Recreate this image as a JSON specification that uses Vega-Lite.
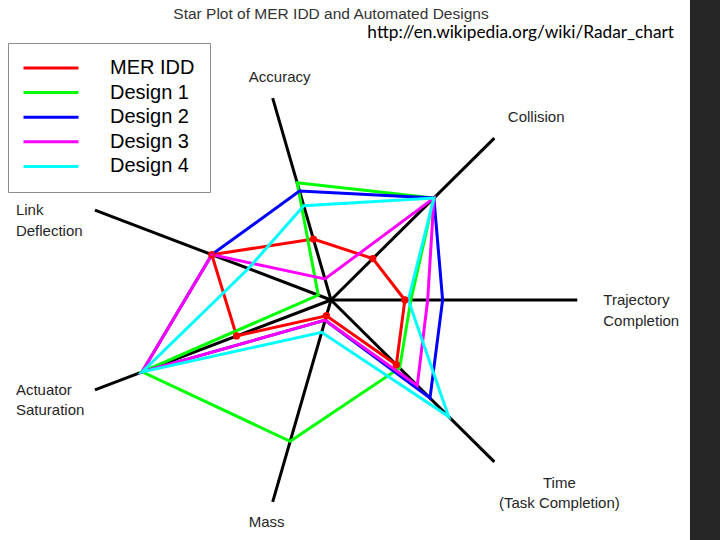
{
  "$schema": "https://vega.github.io/schema/vega-lite/v6.json",
  "width": 690,
  "height": 540,
  "autosize": "none",
  "padding": {"left": 0, "top": 0, "right": 30, "bottom": 0},
  "background": "#262626",
  "config": {"view": {"fill": "white", "stroke": null}},
  "datasets": {
    "axes": [
      {"axis": "Trajectory Completion", "idx": 0, "angle": 0, "len": 0.94, "label": "Trajectory\nCompletion"},
      {"axis": "Collision", "idx": 1, "angle": 51.43, "len": 1, "label": "Collision"},
      {"axis": "Accuracy", "idx": 2, "angle": 102.86, "len": 1, "label": "Accuracy"},
      {"axis": "Link Deflection", "idx": 3, "angle": 154.29, "len": 1, "label": "Link\nDeflection"},
      {"axis": "Actuator Saturation", "idx": 4, "angle": 205.71, "len": 1, "label": "Actuator\nSaturation"},
      {"axis": "Mass", "idx": 5, "angle": 257.14, "len": 1, "label": "Mass"},
      {"axis": "Time (Task Completion)", "idx": 6, "angle": 308.57, "len": 1, "label": "Time\u00a0\u00a0\u00a0\u00a0\u00a0\u00a0\u00a0\u00a0\u00a0\n(Task Completion)"}
    ],
    "scores": [
      {"series": "MER IDD", "axis": "Trajectory Completion", "value": 0.282},
      {"series": "MER IDD", "axis": "Collision", "value": 0.256},
      {"series": "MER IDD", "axis": "Accuracy", "value": 0.302},
      {"series": "MER IDD", "axis": "Link Deflection", "value": 0.505},
      {"series": "MER IDD", "axis": "Actuator Saturation", "value": 0.40},
      {"series": "MER IDD", "axis": "Mass", "value": 0.078},
      {"series": "MER IDD", "axis": "Time (Task Completion)", "value": 0.40},
      {"series": "Design 1", "axis": "Trajectory Completion", "value": 0.305},
      {"series": "Design 1", "axis": "Collision", "value": 0.63},
      {"series": "Design 1", "axis": "Accuracy", "value": 0.581},
      {"series": "Design 1", "axis": "Link Deflection", "value": 0.054},
      {"series": "Design 1", "axis": "Actuator Saturation", "value": 0.80},
      {"series": "Design 1", "axis": "Mass", "value": 0.70},
      {"series": "Design 1", "axis": "Time (Task Completion)", "value": 0.42},
      {"series": "Design 2", "axis": "Trajectory Completion", "value": 0.426},
      {"series": "Design 2", "axis": "Collision", "value": 0.63},
      {"series": "Design 2", "axis": "Accuracy", "value": 0.54},
      {"series": "Design 2", "axis": "Link Deflection", "value": 0.505},
      {"series": "Design 2", "axis": "Actuator Saturation", "value": 0.80},
      {"series": "Design 2", "axis": "Mass", "value": 0.10},
      {"series": "Design 2", "axis": "Time (Task Completion)", "value": 0.606},
      {"series": "Design 3", "axis": "Trajectory Completion", "value": 0.369},
      {"series": "Design 3", "axis": "Collision", "value": 0.63},
      {"series": "Design 3", "axis": "Accuracy", "value": 0.104},
      {"series": "Design 3", "axis": "Link Deflection", "value": 0.505},
      {"series": "Design 3", "axis": "Actuator Saturation", "value": 0.80},
      {"series": "Design 3", "axis": "Mass", "value": 0.10},
      {"series": "Design 3", "axis": "Time (Task Completion)", "value": 0.528},
      {"series": "Design 4", "axis": "Trajectory Completion", "value": 0.295},
      {"series": "Design 4", "axis": "Collision", "value": 0.63},
      {"series": "Design 4", "axis": "Accuracy", "value": 0.467},
      {"series": "Design 4", "axis": "Link Deflection", "value": 0.35},
      {"series": "Design 4", "axis": "Actuator Saturation", "value": 0.80},
      {"series": "Design 4", "axis": "Mass", "value": 0.16},
      {"series": "Design 4", "axis": "Time (Task Completion)", "value": 0.72}
    ]
  },
  "layer": [
    {
      "data": {"name": "axes"},
      "transform": [
        {"calculate": "datum.len*cos(datum.angle*PI/180)", "as": "ex"},
        {"calculate": "datum.len*sin(datum.angle*PI/180)", "as": "ey"},
        {"calculate": "0", "as": "ox"}
      ],
      "mark": {"type": "rule", "color": "black", "strokeWidth": 3},
      "encoding": {
        "x": {"field": "ox", "type": "quantitative", "scale": {"domain": [-1.26336, 1.37023], "nice": false, "zero": false}, "axis": null},
        "y": {"field": "ox", "type": "quantitative", "scale": {"domain": [-1.15942, 1.44928], "nice": false, "zero": false}, "axis": null},
        "x2": {"field": "ex"},
        "y2": {"field": "ey"}
      }
    },
    {
      "data": {"name": "scores"},
      "transform": [
        {"lookup": "axis", "from": {"data": {"values": [
          {"axis": "Trajectory Completion", "idx": 0, "angle": 0},
          {"axis": "Collision", "idx": 1, "angle": 51.43},
          {"axis": "Accuracy", "idx": 2, "angle": 102.86},
          {"axis": "Link Deflection", "idx": 3, "angle": 154.29},
          {"axis": "Actuator Saturation", "idx": 4, "angle": 205.71},
          {"axis": "Mass", "idx": 5, "angle": 257.14},
          {"axis": "Time (Task Completion)", "idx": 6, "angle": 308.57}
        ]}, "key": "axis", "fields": ["angle", "idx"]}},
        {"calculate": "datum.value*cos(datum.angle*PI/180)", "as": "px"},
        {"calculate": "datum.value*sin(datum.angle*PI/180)", "as": "py"}
      ],
      "layer": [
        {
          "mark": {"type": "line", "interpolate": "linear-closed", "strokeWidth": 3},
          "encoding": {
            "x": {"field": "px", "type": "quantitative", "scale": {"domain": [-1.26336, 1.37023], "nice": false, "zero": false}, "axis": null},
            "y": {"field": "py", "type": "quantitative", "scale": {"domain": [-1.15942, 1.44928], "nice": false, "zero": false}, "axis": null},
            "order": {"field": "idx", "type": "quantitative"},
            "color": {
              "field": "series",
              "type": "nominal",
              "scale": {"domain": ["MER IDD", "Design 1", "Design 2", "Design 3", "Design 4"], "range": ["#ff0000", "#00ff00", "#0000ff", "#ff00ff", "#00ffff"]},
              "legend": {
                "title": null,
                "orient": "none",
                "legendX": 8,
                "legendY": 43,
                "padding": 15,
                "rowPadding": 4.6,
                "strokeColor": "#8c8c8c",
                "fillColor": "white",
                "symbolType": "M-5,0L5,0",
                "symbolSize": 121,
                "symbolStrokeWidth": 3,
                "symbolOffset": 18,
                "labelOffset": 49,
                "labelFont": "Liberation Sans",
                "labelFontSize": 20,
                "labelColor": "black",
                "labelLimit": 300
              }
            }
          }
        },
        {
          "transform": [{"filter": "datum.series === 'MER IDD'"}],
          "mark": {"type": "point", "shape": "circle", "filled": false, "size": 28, "strokeWidth": 2, "color": "#ff0000", "opacity": 1},
          "encoding": {
            "x": {"field": "px", "type": "quantitative"},
            "y": {"field": "py", "type": "quantitative"}
          }
        }
      ]
    },
    {
      "data": {"name": "axes"},
      "transform": [
        {"filter": "datum.idx === 3 || datum.idx === 4"},
        {"calculate": "datum.len*cos(datum.angle*PI/180)", "as": "ex"},
        {"calculate": "datum.len*sin(datum.angle*PI/180)", "as": "ey"}
      ],
      "mark": {"type": "text", "align": "left", "baseline": "middle", "dx": -79, "dy": 0, "lineBreak": "\n", "lineHeight": 20.5, "font": "Liberation Sans", "fontSize": 15, "color": "#262626"},
      "encoding": {"x": {"field": "ex", "type": "quantitative"}, "y": {"field": "ey", "type": "quantitative"}, "text": {"field": "label", "type": "nominal"}}
    },
    {
      "data": {"name": "axes"},
      "transform": [
        {"filter": "datum.idx === 0"},
        {"calculate": "datum.len*cos(datum.angle*PI/180)", "as": "ex"},
        {"calculate": "datum.len*sin(datum.angle*PI/180)", "as": "ey"}
      ],
      "mark": {"type": "text", "align": "left", "baseline": "middle", "dx": 26, "dy": 0, "lineBreak": "\n", "lineHeight": 20.5, "font": "Liberation Sans", "fontSize": 15, "color": "#262626"},
      "encoding": {"x": {"field": "ex", "type": "quantitative"}, "y": {"field": "ey", "type": "quantitative"}, "text": {"field": "label", "type": "nominal"}}
    },
    {
      "data": {"name": "axes"},
      "transform": [
        {"filter": "datum.idx === 1"},
        {"calculate": "datum.len*cos(datum.angle*PI/180)", "as": "ex"},
        {"calculate": "datum.len*sin(datum.angle*PI/180)", "as": "ey"}
      ],
      "mark": {"type": "text", "align": "left", "baseline": "middle", "dx": 13.5, "dy": -21, "font": "Liberation Sans", "fontSize": 15, "color": "#262626"},
      "encoding": {"x": {"field": "ex", "type": "quantitative"}, "y": {"field": "ey", "type": "quantitative"}, "text": {"field": "label", "type": "nominal"}}
    },
    {
      "data": {"name": "axes"},
      "transform": [
        {"filter": "datum.idx === 2"},
        {"calculate": "datum.len*cos(datum.angle*PI/180)", "as": "ex"},
        {"calculate": "datum.len*sin(datum.angle*PI/180)", "as": "ey"}
      ],
      "mark": {"type": "text", "align": "center", "baseline": "middle", "dx": 7, "dy": -21.5, "font": "Liberation Sans", "fontSize": 15, "color": "#262626"},
      "encoding": {"x": {"field": "ex", "type": "quantitative"}, "y": {"field": "ey", "type": "quantitative"}, "text": {"field": "label", "type": "nominal"}}
    },
    {
      "data": {"name": "axes"},
      "transform": [
        {"filter": "datum.idx === 5"},
        {"calculate": "datum.len*cos(datum.angle*PI/180)", "as": "ex"},
        {"calculate": "datum.len*sin(datum.angle*PI/180)", "as": "ey"}
      ],
      "mark": {"type": "text", "align": "center", "baseline": "middle", "dx": -6, "dy": 20.5, "font": "Liberation Sans", "fontSize": 15, "color": "#262626"},
      "encoding": {"x": {"field": "ex", "type": "quantitative"}, "y": {"field": "ey", "type": "quantitative"}, "text": {"field": "label", "type": "nominal"}}
    },
    {
      "data": {"name": "axes"},
      "transform": [
        {"filter": "datum.idx === 6"},
        {"calculate": "datum.len*cos(datum.angle*PI/180)", "as": "ex"},
        {"calculate": "datum.len*sin(datum.angle*PI/180)", "as": "ey"}
      ],
      "mark": {"type": "text", "align": "center", "baseline": "middle", "dx": 65, "dy": 21, "lineBreak": "\n", "lineHeight": 20.5, "font": "Liberation Sans", "fontSize": 15, "color": "#262626"},
      "encoding": {"x": {"field": "ex", "type": "quantitative"}, "y": {"field": "ey", "type": "quantitative"}, "text": {"field": "label", "type": "nominal"}}
    },
    {
      "data": {"values": [{"heading": "Star Plot of MER IDD and Automated Designs", "hx": 0, "hy": 1.38164}]},
      "mark": {"type": "text", "align": "center", "baseline": "middle", "font": "Liberation Sans", "fontSize": 15.5, "color": "#333333"},
      "encoding": {
        "x": {"field": "hx", "type": "quantitative"},
        "y": {"field": "hy", "type": "quantitative"},
        "text": {"field": "heading", "type": "nominal"}
      }
    },
    {
      "data": {"values": [{"note": "http://en.wikipedia.org/wiki/Radar_chart", "nx": 1.30916, "ny": 1.28986}]},
      "mark": {"type": "text", "align": "right", "baseline": "middle", "font": "Lato", "fontSize": 17.3, "color": "black"},
      "encoding": {
        "x": {"field": "nx", "type": "quantitative"},
        "y": {"field": "ny", "type": "quantitative"},
        "text": {"field": "note", "type": "nominal"}
      }
    }
  ]
}
